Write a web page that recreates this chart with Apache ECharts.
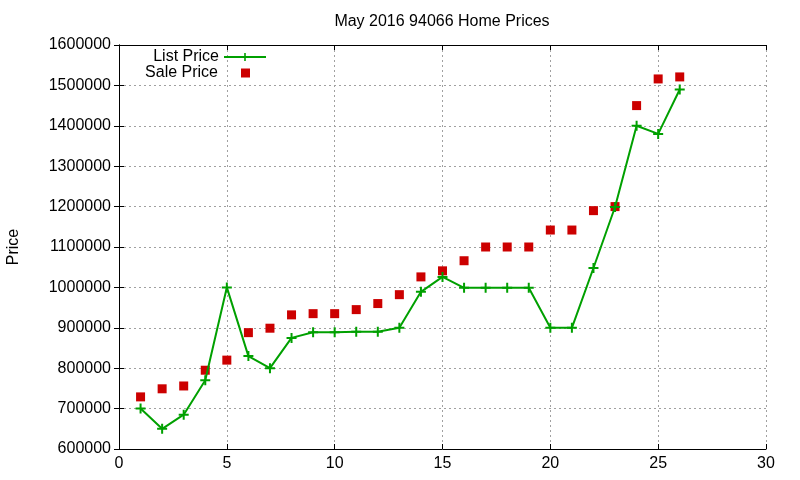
<!DOCTYPE html>
<html>
<head>
<meta charset="utf-8">
<script src="https://cdn.jsdelivr.net/npm/echarts@6/dist/echarts.min.js"></script>
<style>
  html, body { margin: 0; padding: 0; background: #fff; }
  #chart { width: 800px; height: 480px; }
</style>
</head>
<body>
<div id="chart"></div>
<script>
// data
const houseIndex = [1, 2, 3, 4, 5, 6, 7, 8, 9, 10, 11, 12, 13, 14, 15, 16, 17, 18, 19, 20, 21, 22, 23, 24, 25, 26];
const listPrice = [700000, 650000, 685000, 770000, 1000000, 830000, 800000, 875000, 889000, 889000, 890000, 890000, 900000,
  989000, 1026000, 999000, 999000, 999000, 999000, 900000, 900000, 1048000, 1199000, 1400000, 1380000, 1490000];
const salePrice = [729000, 749000, 756000, 795000, 820000, 888000, 899000, 932000, 935000, 935000, 945000, 960000, 982000,
  1026000, 1041000, 1066000, 1100000, 1100000, 1100000, 1142000, 1142000, 1190000, 1200000, 1450000, 1516000, 1521000];

const font = "'Liberation Sans', Arial, sans-serif";
// 加号形状的点
const plusPath = "path://M4,0H6V4H10V6H6V10H4V6H0V4H4Z";

const chart = echarts.init(document.getElementById("chart"));

const gridLine = { show: true, lineStyle: { color: "#a0a0a0", type: [2, 3], width: 1 } };
const frame = { show: true, lineStyle: { color: "#000", width: 1 } };
const ticksIn = { show: true, inside: true, length: 5, lineStyle: { color: "#000" } };

chart.setOption({
  animation: false,
  textStyle: { fontFamily: font },
  title: {
    text: "May 2016 94066 Home Prices",
    left: 437,
    textAlign: "center",
    top: 9,
    textStyle: { fontSize: 16, fontWeight: "normal", color: "#000", fontFamily: font },
  },
  legend: [
    {
      data: ["List Price"],
      orient: "vertical",
      align: "right",
      right: 528,
      top: 44,
      itemWidth: 42,
      itemHeight: 10,
      textStyle: { fontSize: 16, color: "#000", fontFamily: font },
    },
    {
      data: [{ name: "Sale Price", icon: "rect" }],
      orient: "vertical",
      align: "right",
      right: 545,
      top: 60,
      itemWidth: 9,
      itemHeight: 9,
      textStyle: { fontSize: 16, color: "#000", fontFamily: font, padding: [0, 18, 0, 0] },
    },
  ],
  grid: { left: 119, right: 34, top: 45, bottom: 31, containLabel: false, outerBoundsMode: "none" },
  xAxis: [
    {
      type: "value",
      min: 0,
      max: 30,
      interval: 5,
      axisLine: frame,
      axisTick: ticksIn,
      splitLine: gridLine,
      axisLabel: { color: "#000", fontSize: 16, margin: 7, fontFamily: font },
    },
    {
      type: "value",
      position: "top",
      min: 0,
      max: 30,
      interval: 5,
      axisLine: frame,
      axisTick: ticksIn,
      splitLine: { show: false },
      axisLabel: { show: false },
    },
  ],
  yAxis: [
    {
      type: "value",
      min: 600000,
      max: 1600000,
      interval: 100000,
      name: "Price",
      nameLocation: "middle",
      nameGap: 97,
      nameTextStyle: { fontSize: 16, color: "#000", fontFamily: font },
      axisLine: frame,
      axisTick: ticksIn,
      splitLine: gridLine,
      axisLabel: { color: "#000", fontSize: 16, margin: 8, fontFamily: font, formatter: (v) => String(v) },
    },
    {
      type: "value",
      position: "right",
      min: 600000,
      max: 1600000,
      interval: 100000,
      axisLine: frame,
      axisTick: ticksIn,
      splitLine: { show: false },
      axisLabel: { show: false },
    },
  ],
  series: [
    {
      name: "List Price",
      type: "line",
      data: houseIndex.map((x, i) => [x, listPrice[i]]),
      symbol: plusPath,
      symbolSize: 10,
      lineStyle: { color: "#00a000", width: 2 },
      itemStyle: { color: "#00a000" },
      z: 3,
    },
    {
      name: "Sale Price",
      type: "scatter",
      data: houseIndex.map((x, i) => [x, salePrice[i]]),
      symbol: "rect",
      symbolSize: 9,
      itemStyle: { color: "#cc0000", opacity: 1 },
      z: 2,
    },
  ],
});
</script>
</body>
</html>
